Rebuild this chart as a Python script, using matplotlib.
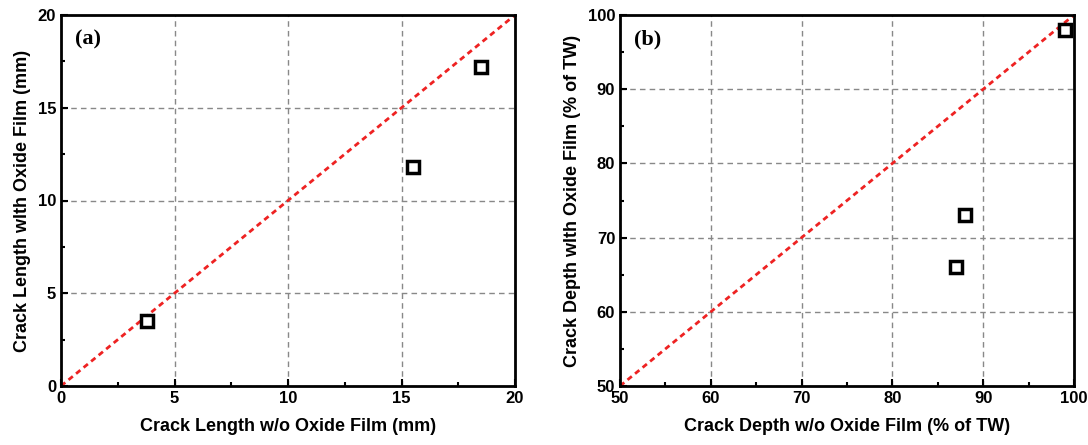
import matplotlib
matplotlib.use('Agg')
import matplotlib.pyplot as plt
from matplotlib.ticker import MultipleLocator

# panel (a): crack length
len_wo = [3.8, 15.5, 18.5]
len_with = [3.5, 11.8, 17.2]
# panel (b): crack depth
depth_wo = [87, 88, 99]
depth_with = [66, 73, 98]

plt.rcParams['font.family'] = ['Liberation Sans', 'DejaVu Sans']

fig = plt.figure(figsize=(10.88, 4.45), dpi=100)
ax1 = fig.add_axes([61/1088, 1-386/445, 454/1088, 371/445])
ax2 = fig.add_axes([620/1088, 1-386/445, 454/1088, 371/445])


def style(ax, lo, hi, step, xlabel, ylabel, tag):
    ax.plot([lo, hi], [lo, hi], color='#ee2222', ls=(0, (2, 1.5)), lw=2, zorder=2)
    ax.set_xlim(lo, hi)
    ax.set_ylim(lo, hi)
    ax.xaxis.set_major_locator(MultipleLocator(step))
    ax.yaxis.set_major_locator(MultipleLocator(step))
    ax.xaxis.set_minor_locator(MultipleLocator(step / 2))
    ax.yaxis.set_minor_locator(MultipleLocator(step / 2))
    ax.grid(True, which='major', color='#888888', ls=(0, (4, 3)), lw=1)
    ax.tick_params(which='both', direction='in', top=False, right=False, width=1.5)
    ax.tick_params(which='major', length=5, labelsize=12)
    ax.tick_params(which='minor', length=3)
    for s in ax.spines.values():
        s.set_linewidth(2)
    for lab in ax.get_xticklabels() + ax.get_yticklabels():
        lab.set_fontweight('bold')
    ax.set_xlabel(xlabel, fontsize=13, fontweight='bold', labelpad=9)
    ax.set_ylabel(ylabel, fontsize=13, fontweight='bold', labelpad=5)
    ax.text(0.03, 0.96, tag, transform=ax.transAxes, ha='left', va='top',
            fontsize=16, fontweight='bold', family='Liberation Serif')


style(ax1, 0, 20, 5, 'Crack Length w/o Oxide Film (mm)',
      'Crack Length wlth Oxide Film (mm)', '(a)')
ax1.plot(len_wo, len_with, ls='none', marker='s', ms=8.5, mfc='white',
         mec='black', mew=2.5, zorder=3)

style(ax2, 50, 100, 10, 'Crack Depth w/o Oxide Film (% of TW)',
      'Crack Depth wlth Oxide Film (% of TW)', '(b)')
ax2.plot(depth_wo, depth_with, ls='none', marker='s', ms=8.5, mfc='white',
         mec='black', mew=2.5, zorder=3, clip_on=False)

fig.savefig('out.png', dpi=100)
